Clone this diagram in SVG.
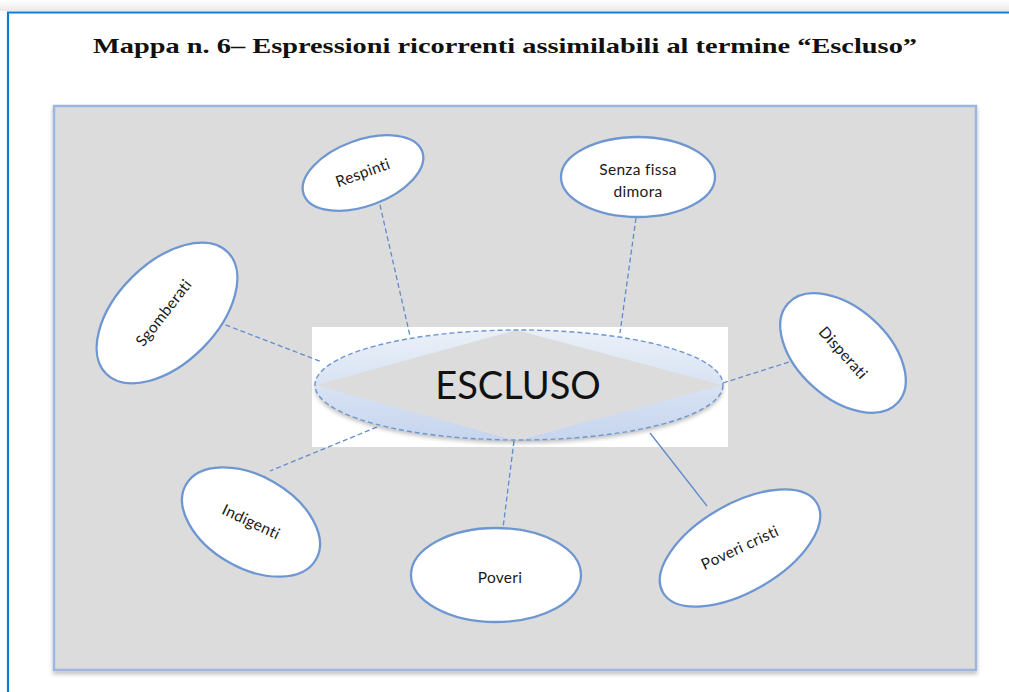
<svg xmlns="http://www.w3.org/2000/svg" width="1009" height="692" viewBox="0 0 1009 692">
  <defs>
    <linearGradient id="topShade" x1="0" y1="0" x2="0" y2="1">
      <stop offset="0" stop-color="#ffffff"/>
      <stop offset="1" stop-color="#e9e9e9"/>
    </linearGradient>
    <linearGradient id="centerFill" x1="0" y1="0" x2="0" y2="1">
      <stop offset="0" stop-color="#eaf0f8"/>
      <stop offset="1" stop-color="#c6d5ee"/>
    </linearGradient>
    <clipPath id="centerClip">
      <ellipse cx="519" cy="385" rx="204" ry="55"/>
    </clipPath>
    <filter id="softShadow" x="-10%" y="-10%" width="120%" height="130%">
      <feGaussianBlur in="SourceAlpha" stdDeviation="2"/>
      <feOffset dx="0" dy="3" result="b"/>
      <feComponentTransfer><feFuncA type="linear" slope="0.25"/></feComponentTransfer>
      <feMerge><feMergeNode/><feMergeNode in="SourceGraphic"/></feMerge>
    </filter>
  </defs>
  <style>
    .sat { fill: #ffffff; stroke: #6e97d2; stroke-width: 2.3; }
    .lbl { font-family: Lato, "Liberation Sans", sans-serif; font-size: 15.5px; letter-spacing: 0.3px; fill: #1a1a1a; text-anchor: middle; }
    .conn { stroke: #5f8ccc; stroke-width: 1.3; stroke-dasharray: 5 3; fill: none; }
  </style>

  <!-- page background -->
  <rect x="0" y="0" width="1009" height="692" fill="#ffffff"/>
  <rect x="0" y="0" width="1009" height="11" fill="url(#topShade)"/>
  <!-- outer frame -->
  <path d="M8 700 V12.5 H1012" fill="none" stroke="#0b7fd3" stroke-width="2.2"/>

  <!-- title -->
  <text x="505" y="53" font-family="'Liberation Serif', serif" font-weight="bold" font-size="21" fill="#111" text-anchor="middle" textLength="824" lengthAdjust="spacingAndGlyphs">Mappa n. 6– Espressioni ricorrenti assimilabili al termine “Escluso”</text>

  <!-- grey panel -->
  <rect x="54" y="106" width="922" height="564" fill="#dcdcdc" stroke="#9cb6de" stroke-width="2.5" filter="url(#softShadow)"/>

  <!-- white backdrop of central node -->
  <rect x="312" y="327" width="416" height="120" fill="#ffffff"/>

  <!-- connectors -->
  <g id="connectors">
    <line class="conn" x1="380" y1="205" x2="410" y2="336"/>
    <line class="conn" x1="218" y1="322" x2="322" y2="362"/>
    <line class="conn" x1="636" y1="218" x2="620" y2="333"/>
    <line class="conn" x1="723" y1="383" x2="789" y2="362"/>
    <line class="conn" x1="377" y1="427" x2="270" y2="471"/>
    <line class="conn" x1="514" y1="441" x2="503" y2="528"/>
    <line x1="650" y1="433" x2="707" y2="506" stroke="#5f8ccc" stroke-width="1.3"/>
  </g>

  <!-- central node -->
  <g id="node-escluso">
    <g filter="url(#softShadow)">
      <ellipse cx="519" cy="385" rx="204" ry="55" fill="url(#centerFill)"/>
    </g>
    <polygon points="316,385 516,330 722,385 516,441" fill="#dcdcdc" clip-path="url(#centerClip)"/>
    <ellipse cx="519" cy="385" rx="204" ry="55" fill="none" stroke="#6e97d2" stroke-width="1.4" stroke-dasharray="5 3"/>
    <text x="518" y="399" font-family="Lato, 'Liberation Sans', sans-serif" font-size="38" fill="#111" text-anchor="middle">ESCLUSO</text>
  </g>

  <g id="node-respinti">
    <ellipse class="sat" cx="363" cy="173" rx="63" ry="33" transform="rotate(-20 363 173)"/>
    <text class="lbl" x="363" y="178" transform="rotate(-20 363 173)">Respinti</text>
  </g>

  <g id="node-sgomberati">
    <ellipse class="sat" cx="167" cy="313" rx="86" ry="50" transform="rotate(-45 167 313)"/>
    <text class="lbl" x="164" y="318" transform="rotate(-52 164 313)">Sgomberati</text>
  </g>

  <g id="node-senza-fissa-dimora">
    <ellipse class="sat" cx="638" cy="177" rx="77" ry="40"/>
    <text class="lbl" x="638" y="175">Senza fissa</text>
    <text class="lbl" x="638" y="197">dimora</text>
  </g>

  <g id="node-disperati">
    <ellipse class="sat" cx="843" cy="353" rx="74" ry="45" transform="rotate(42 843 353)"/>
    <text class="lbl" x="843" y="358" transform="rotate(48 843 353)">Disperati</text>
  </g>

  <g id="node-indigenti">
    <ellipse class="sat" cx="251" cy="522" rx="75" ry="46" transform="rotate(30 251 522)"/>
    <text class="lbl" x="251" y="527" transform="rotate(25 251 522)">Indigenti</text>
  </g>

  <g id="node-poveri">
    <ellipse class="sat" cx="496" cy="575" rx="85" ry="47"/>
    <text class="lbl" x="500" y="583">Poveri</text>
  </g>

  <g id="node-poveri-cristi">
    <ellipse class="sat" cx="740" cy="548" rx="89" ry="44" transform="rotate(-30 740 548)"/>
    <text class="lbl" x="740" y="553" transform="rotate(-25 740 548)">Poveri cristi</text>
  </g>
</svg>
